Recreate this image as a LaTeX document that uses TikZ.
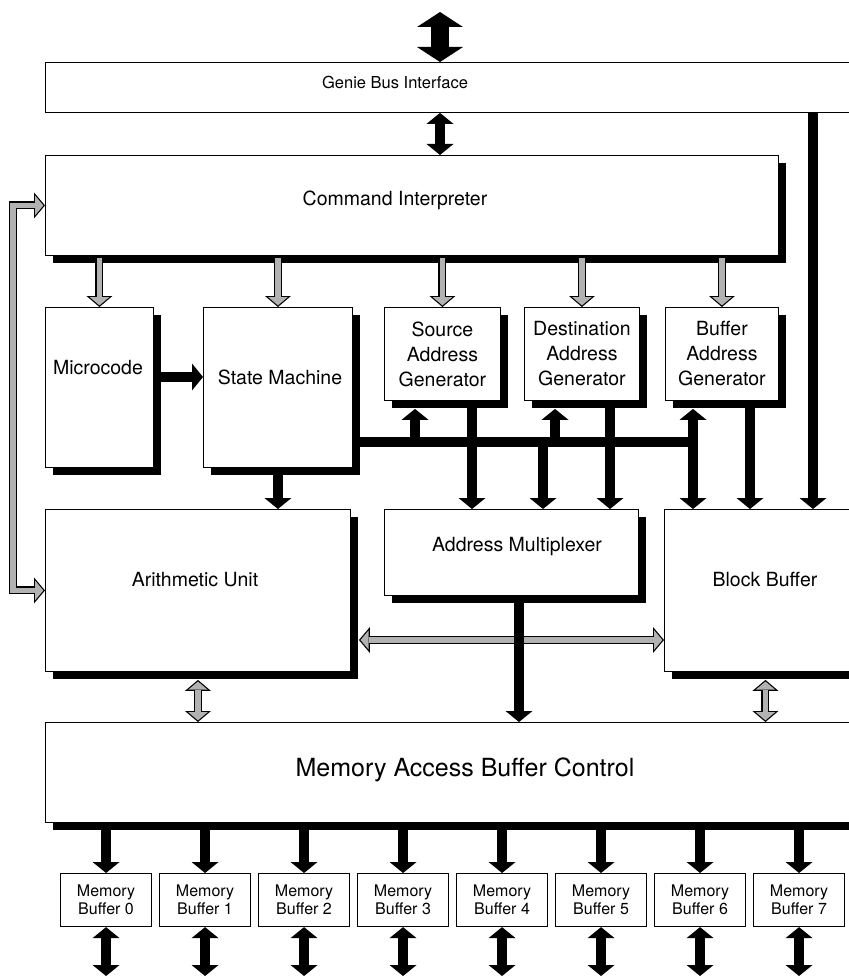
\documentclass[tikz,border=0pt]{standalone}
\usepackage{fontspec}
\setmainfont{TeX Gyre Heros}
\usetikzlibrary{arrows.meta,shadows,calc}

\def\hollow#1#2{%
  \draw[hollow out,#1] #2;
  \draw[hollow in,#1] #2;}

\begin{document}
\begin{tikzpicture}[x=1pt,y=-1pt,line join=miter]
    \tikzstyle{blk}=[draw,line width=0.9pt,fill=white,inner sep=0pt,anchor=north west]
    \tikzstyle{shadowed}=[drop shadow={shadow xshift=8pt,shadow yshift=-8pt,fill=black,opacity=1}]
    \tikzstyle{lbl}=[inner sep=0pt,align=center,font=\fontsize{19.5}{25}\selectfont]
    \tikzstyle{wire}=[line width=10pt,draw=black]
    \tikzstyle{wire arrow}=[wire,>={Triangle[length=11pt,width=27pt,line width=0pt]}]
    \tikzstyle{fat arrow}=[line width=18pt,>={Triangle[length=15pt,width=46pt,line width=0pt]}]
    \tikzstyle{hollow out}=[line width=8pt,draw=black,>={Triangle[length=11pt,width=26pt,line width=0pt]}]
    \tikzstyle{hollow in}=[line width=5.6pt,draw=black!30,shorten >=1.6pt,shorten <=1.6pt,>={Triangle[length=8.2pt,width=19.4pt,line width=0pt]}]

    \path[use as bounding box,fill=white] (0,0) rectangle (848,976);

    % Free ends and bus taps
    \coordinate (top) at (440,12);
    \coordinate (loop) at (13,0);
    \coordinate (bus) at (0,442);
    \coordinate (xbus) at (0,640);
    \coordinate (mcy) at (0,377);
    \coordinate (rbus) at (813,0);
    \coordinate (bot) at (0,976);
    \coordinate (tapA) at (415,0);
    \coordinate (tapS) at (472,0);
    \coordinate (tapC) at (543,0);
    \coordinate (tapB) at (555,0);
    \coordinate (tapT) at (610,0);
    \coordinate (tapD) at (693,0);
    \coordinate (tapU) at (750,0);
    \coordinate (tapM) at (519,0);

    % Blocks
    \node[blk,minimum width=830pt,minimum height=50pt] (genie) at (45,62) {};
    \node[blk,shadowed,minimum width=733pt,minimum height=100pt] (ci) at (45,155) {};
    \node[blk,shadowed,minimum width=108pt,minimum height=160pt] (mc) at (45,307) {};
    \node[blk,shadowed,minimum width=149pt,minimum height=160pt] (sm) at (203,307) {};
    \node[blk,shadowed,lbl,minimum width=116pt,minimum height=93pt] (srcg) at (384,307) {Source\\Address\\Generator};
    \node[blk,shadowed,lbl,minimum width=115pt,minimum height=93pt] (dstg) at (524,307) {Destination\\Address\\Generator};
    \node[blk,shadowed,lbl,minimum width=113pt,minimum height=93pt] (bufg) at (665,307) {Buffer\\Address\\Generator};
    \node[blk,shadowed,minimum width=305pt,minimum height=162pt] (au) at (45,509) {};
    \node[blk,shadowed,minimum width=254pt,minimum height=86pt] (mux) at (384,509) {};
    \node[blk,shadowed,minimum width=202pt,minimum height=162pt] (bb) at (664,509) {};
    \node[blk,shadowed,minimum width=840pt,minimum height=100pt] (mabc) at (45,722) {};
    \foreach \i in {0,...,7}
      \node[blk,line width=1.1pt,align=center,font=\fontsize{16}{18}\selectfont,minimum width=91pt,minimum height=53pt] (mb\i) at (60+99*\i,873) {Memory\\Buffer \i};

    % Labels
    \node[lbl,font=\fontsize{16.5}{20}\selectfont] (genie-t) at (395,82) {Genie Bus Interface};
    \node[lbl] (ci-t) at (395,200) {Command Interpreter};
    \node[lbl] (mc-t) at (98,368) {Microcode};
    \node[lbl] (sm-t) at (280,377) {State Machine};
    \node[lbl] (au-t) at (195,580) {Arithmetic Unit};
    \node[lbl] (mux-t) at (517,547) {Address Multiplexer};
    \node[lbl] (bb-t) at (765,580) {Block Buffer};
    \node[lbl,font=\fontsize{25}{30}\selectfont] (mabc-t) at (465,770) {Memory Access Buffer Control};

    % Genie bus
    \draw[fat arrow,<->] (top) -- (top |- genie.north);
    \draw[wire arrow,<->] (top |- genie.south) -- (top |- ci.north);
    \draw[wire arrow,->] (rbus |- genie.south) -- (rbus |- bb.north);

    % Command lines
    \foreach \b in {mc,sm,srcg,dstg,bufg}
      {\hollow{->}{(\b.north |- ci.south) -- (\b.north)}}
    \hollow{<->}{(ci.west) -- (ci.west -| loop) -- (au.west -| loop) -- (au.west)}

    % Control and address paths
    \draw[wire arrow,->] (mc.east |- mcy) -- (sm.west |- mcy);
    \draw[wire arrow,->] (sm.south) -- (sm.south |- au.north);
    \draw[wire] ([xshift=4pt]sm.east |- bus) -- (tapD |- bus);
    \draw[wire arrow,->] (tapA |- bus) -- ($(tapA |- srcg.south)+(0,8)$);
    \draw[wire arrow,->] (tapB |- bus) -- ($(tapB |- dstg.south)+(0,8)$);
    \draw[wire arrow,<->] ($(tapD |- bufg.south)+(0,8)$) -- (tapD |- bb.north);
    \draw[wire arrow,->] (tapS |- srcg.south) -- (tapS |- mux.north);
    \draw[wire arrow,->] (tapC |- bus) -- (tapC |- mux.north);
    \draw[wire arrow,->] (tapT |- dstg.south) -- (tapT |- mux.north);
    \draw[wire arrow,->] (tapU |- bufg.south) -- (tapU |- bb.north);

    % Data paths
    \hollow{<->}{($(au.east |- xbus)+(8,0)$) -- (bb.west |- xbus)}
    \hollow{<->}{($(au.south)+(0,8)$) -- (au.south |- mabc.north)}
    \hollow{<->}{($(bb.south)+(0,8)$) -- (bb.south |- mabc.north)}
    \draw[wire arrow,->] (tapM |- mux.south) -- (tapM |- mabc.north);

    % Memory buffers
    \foreach \i in {0,...,7}
      {\draw[wire arrow,->] (mb\i.north |- mabc.south) -- (mb\i.north);
       \draw[wire arrow,<->] (mb\i.south) -- (mb\i.south |- bot);}
\end{tikzpicture}
\end{document}
